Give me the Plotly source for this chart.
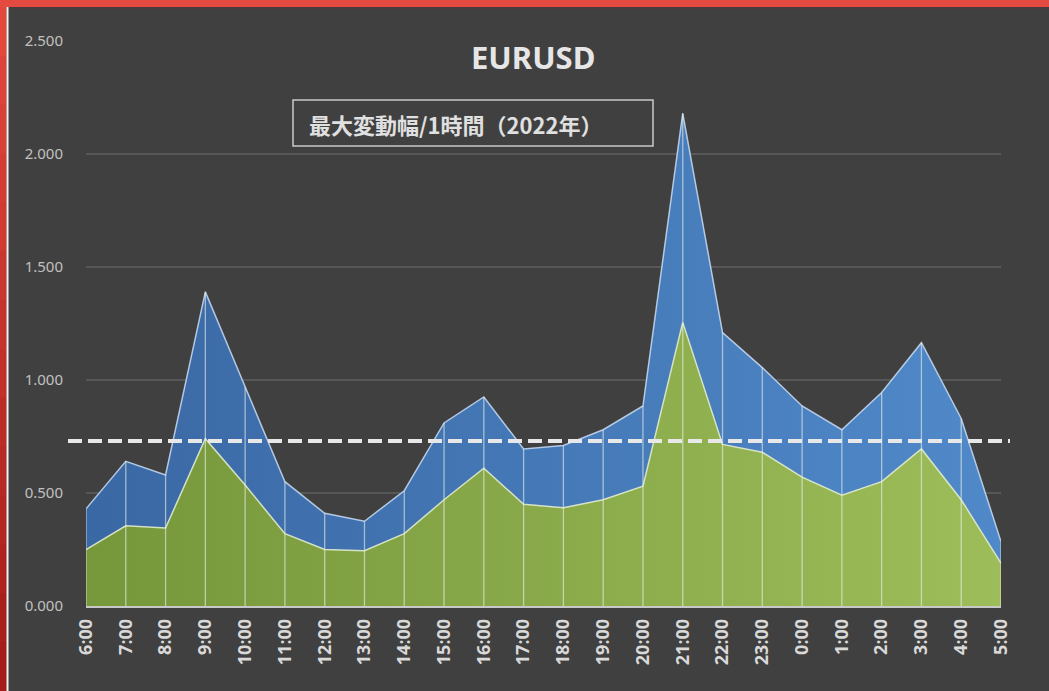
import plotly.graph_objects as go

hours = ["6:00", "7:00", "8:00", "9:00", "10:00", "11:00", "12:00", "13:00", "14:00",
         "15:00", "16:00", "17:00", "18:00", "19:00", "20:00", "21:00", "22:00", "23:00",
         "0:00", "1:00", "2:00", "3:00", "4:00", "5:00"]
max_range = [0.43, 0.64, 0.58, 1.39, 0.97, 0.55, 0.41, 0.375, 0.51, 0.81, 0.925, 0.695,
             0.71, 0.78, 0.885, 2.18, 1.21, 1.055, 0.885, 0.78, 0.945, 1.165, 0.83, 0.285]
avg_range = [0.25, 0.355, 0.345, 0.74, 0.535, 0.32, 0.25, 0.245, 0.32, 0.47, 0.61, 0.45,
             0.435, 0.47, 0.53, 1.255, 0.715, 0.68, 0.57, 0.49, 0.55, 0.695, 0.47, 0.19]
ref_level = 0.73
y_ticks = [0, 0.5, 1.0, 1.5, 2.0, 2.5]

xs = list(range(len(hours)))

# plot area geometry (pixels) used for paper-coordinate decorations
L, R, T, B = 86, 1001, 41, 606
W, H = R - L, B - T
def px(x):
    return (x - L) / W
def py(y):
    return (B - y) / H

fig = go.Figure()
fig.add_trace(go.Scatter(
    x=xs, y=max_range, mode="lines", fill="tozeroy",
    line=dict(color="rgba(200,220,245,0.85)", width=1.5),
    fillgradient=dict(type="horizontal", colorscale=[[0, "#3a68a4"], [1, "#5089c9"]]),
    hoverinfo="skip"))
fig.add_trace(go.Scatter(
    x=xs, y=avg_range, mode="lines", fill="tozeroy",
    line=dict(color="rgba(225,235,205,0.9)", width=1.5),
    fillgradient=dict(type="horizontal", colorscale=[[0, "#76973a"], [1, "#9dbd5a"]]),
    hoverinfo="skip"))

# drop lines from the top series to the axis
dx, dy = [], []
for x, y in zip(xs, max_range):
    dx += [x, x, None]
    dy += [0, y, None]
fig.add_trace(go.Scatter(x=dx, y=dy, mode="lines",
                         line=dict(color="rgba(235,240,235,0.6)", width=1.3),
                         hoverinfo="skip"))

shapes = []
# dashed reference line
shapes.append(dict(type="line", xref="paper", yref="y", x0=px(68), x1=px(1010),
                   y0=ref_level, y1=ref_level,
                   line=dict(color="#e8e8e8", width=4, dash="14px,6px")))
# subtitle box
shapes.append(dict(type="rect", xref="paper", yref="paper", x0=px(293), x1=px(653),
                   y0=py(146), y1=py(100), line=dict(color="#c8c8c8", width=1.5),
                   fillcolor="rgba(0,0,0,0)", layer="above"))
# red frame: top band
shapes.append(dict(type="rect", xref="paper", yref="paper", x0=px(0), x1=px(1049),
                   y0=py(7), y1=py(0), fillcolor="#e44a40", line=dict(width=0), layer="above"))
shapes.append(dict(type="rect", xref="paper", yref="paper", x0=px(8), x1=px(1049),
                   y0=py(9), y1=py(7), fillcolor="#4a3c3c", line=dict(width=0), layer="above"))
# left band with vertical gradient
n = 14
c_top = (226, 72, 60)
c_bot = (165, 28, 26)
for i in range(n):
    t = i / (n - 1)
    c = tuple(int(c_top[k] + (c_bot[k] - c_top[k]) * t) for k in range(3))
    y_top = 7 + i * (691 - 7) / n
    y_bot = 7 + (i + 1) * (691 - 7) / n
    shapes.append(dict(type="rect", xref="paper", yref="paper", x0=px(0), x1=px(6.5),
                       y0=py(y_bot + 1), y1=py(y_top), fillcolor="rgb(%d,%d,%d)" % c,
                       line=dict(width=0), layer="above"))
shapes.append(dict(type="rect", xref="paper", yref="paper", x0=px(6.5), x1=px(8.5),
                   y0=py(691), y1=py(7), fillcolor="#f4f0f0", line=dict(width=0), layer="above"))

fig.update_layout(
    width=1049, height=691,
    margin=dict(l=L, r=1049 - R, t=T, b=691 - B),
    paper_bgcolor="#404040", plot_bgcolor="#404040",
    showlegend=False,
    font=dict(family="Noto Sans, Noto Sans CJK JP, sans-serif", color="#bfbfbf"),
    shapes=shapes,
    annotations=[
        dict(text="<b>EURUSD</b>", xref="paper", yref="paper", x=px(533), y=py(57),
             xanchor="center", yanchor="middle", showarrow=False,
             font=dict(size=31, color="#e6e6e6",
                       family="Noto Sans, Noto Sans CJK JP, sans-serif")),
        dict(text="<b>最大変動幅/1時間（2022年）</b>", xref="paper", yref="paper",
             x=px(307), y=py(124), xanchor="left", yanchor="middle", showarrow=False,
             font=dict(size=22, color="#e0e0e0",
                       family="Noto Sans CJK JP, Noto Sans, sans-serif")),
    ],
    xaxis=dict(range=[0, 23], tickmode="array", tickvals=xs, ticktext=hours,
               tickangle=-90, showgrid=False, zeroline=False,
               showline=True, linecolor="#c8c8c8", linewidth=1.5,
               tickfont=dict(size=18, color="#d9d9d9",
                             family="Noto Sans, sans-serif", weight="bold"),
               ticks="", ticklabelstandoff=4),
    yaxis=dict(range=[0, 2.5], tickmode="array", tickvals=y_ticks,
               tickformat=".3f", showgrid=True, gridcolor="#575757", gridwidth=1.5,
               zeroline=False, showline=False, ticks="", ticklabelstandoff=22,
               tickfont=dict(size=15, color="#c0c0c0", family="Noto Sans, sans-serif")),
)

fig.write_html("out.html", config={"displayModeBar": False},
               post_script="document.body.style.margin='0';document.body.style.overflow='hidden';")
